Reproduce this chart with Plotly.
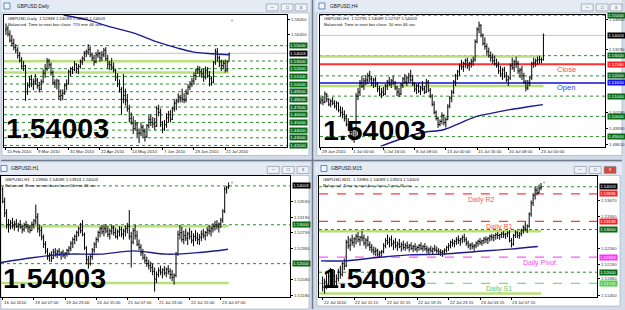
import plotly.graph_objects as go

W, H = 625, 310

# ---------------- DATA ----------------
# Daily
d_dates = ["15 Feb 2010", "9 Mar 2010", "31 Mar 2010", "22 Apr 2010", "14 May 2010", "7 Jun 2010", "29 Jun 2010", "21 Jul 2010"]
d_open0 = 1.5700
d_high = [1.5790,1.5760,1.5700,1.5640,1.5590,1.5520,1.5480,1.5420,1.5350,1.5300,
          1.5250,1.5020,1.5100,1.5120,1.5070,1.5130,1.5080,1.5030,1.5060,1.5190,
          1.5260,1.5340,1.5330,1.5280,1.5180,1.5060,1.5070,1.5060,1.4930,1.4930,
          1.5010,1.5060,1.5190,1.5220,1.5230,1.5300,1.5270,1.5260,1.5320,1.5360,
          1.5430,1.5450,1.5520,1.5490,1.5410,1.5380,1.5420,1.5450,1.5420,1.5430,
          1.5470,1.5480,1.5380,1.5300,1.5340,1.5280,1.5200,1.5140,1.5060,1.4960,
          1.5130,1.4940,1.4870,1.4730,1.4630,1.4580,1.4530,1.4500,1.4420,1.4500,
          1.4470,1.4420,1.4480,1.4590,1.4610,1.4570,1.4560,1.4710,1.4730,1.4680,
          1.4520,1.4530,1.4620,1.4650,1.4660,1.4700,1.4790,1.4810,1.4880,1.4860,
          1.4940,1.4880,1.4930,1.5000,1.5040,1.5080,1.5150,1.5200,1.5240,1.5230,
          1.5200,1.5200,1.5230,1.5220,1.5170,1.5100,1.5300,1.5460,1.5470,1.5370,
          1.5320,1.5310,1.5320,1.5310,1.5409]
d_low = [1.5640,1.5620,1.5540,1.5490,1.5440,1.5400,1.5330,1.5280,1.5190,1.5170,
         1.4780,1.4860,1.4950,1.4960,1.4920,1.4990,1.4940,1.4890,1.4920,1.5010,
         1.5080,1.5170,1.5200,1.5110,1.4990,1.4950,1.4930,1.4800,1.4780,1.4790,
         1.4860,1.4920,1.4990,1.5100,1.5130,1.5170,1.5140,1.5130,1.5200,1.5250,
         1.5300,1.5350,1.5380,1.5350,1.5300,1.5240,1.5270,1.5340,1.5290,1.5300,
         1.5350,1.5300,1.5200,1.5180,1.5180,1.5150,1.5040,1.4960,1.4890,1.4600,
         1.4750,1.4720,1.4640,1.4500,1.4470,1.4350,1.4390,1.4310,1.4230,1.4320,
         1.4300,1.4250,1.4300,1.4420,1.4450,1.4430,1.4400,1.4440,1.4580,1.4440,
         1.4360,1.4390,1.4430,1.4500,1.4500,1.4530,1.4640,1.4660,1.4750,1.4760,
         1.4760,1.4750,1.4760,1.4860,1.4920,1.4960,1.4990,1.5050,1.5130,1.5090,
         1.5080,1.5030,1.5060,1.5080,1.4970,1.4980,1.5010,1.5250,1.5290,1.5220,
         1.5170,1.5190,1.5150,1.5160,1.5295]
d_close = [1.5720,1.5650,1.5570,1.5530,1.5480,1.5440,1.5370,1.5310,1.5230,1.5240,
           1.4900,1.4980,1.5060,1.5000,1.5030,1.5050,1.4980,1.4930,1.5030,1.5140,
           1.5200,1.5300,1.5250,1.5150,1.5020,1.5000,1.5040,1.4840,1.4850,1.4880,
           1.4980,1.5000,1.5160,1.5200,1.5190,1.5260,1.5200,1.5230,1.5290,1.5330,
           1.5400,1.5420,1.5450,1.5380,1.5340,1.5290,1.5380,1.5400,1.5340,1.5380,
           1.5440,1.5330,1.5260,1.5250,1.5220,1.5180,1.5090,1.5000,1.4930,1.4800,
           1.4850,1.4780,1.4680,1.4550,1.4490,1.4420,1.4480,1.4360,1.4360,1.4440,
           1.4380,1.4310,1.4460,1.4540,1.4500,1.4480,1.4450,1.4680,1.4630,1.4470,
           1.4410,1.4470,1.4560,1.4600,1.4540,1.4680,1.4750,1.4780,1.4830,1.4820,
           1.4800,1.4790,1.4880,1.4960,1.5000,1.5040,1.5110,1.5180,1.5190,1.5160,
           1.5130,1.5090,1.5180,1.5110,1.5070,1.5020,1.5280,1.5420,1.5340,1.5290,
           1.5240,1.5270,1.5180,1.5290,1.5400]
d_ma_x = [29.4, 41.6, 53.3, 65.0, 77.2, 87.3, 95.4, 105.6, 114.2]
d_ma_y = [1.5900, 1.5835, 1.5744, 1.5666, 1.5549, 1.5471, 1.5419, 1.5394, 1.5381]
d_levels = [1.55, 1.53, 1.52, 1.51, 1.50, 1.49, 1.48, 1.47, 1.46, 1.45, 1.44, 1.43, 1.42]
d_axis = [1.5840, 1.5645]

# H4
h4_dates = ["29 Jun 2010", "1 Jul 00:00", "5 Jul 16:00", "8 Jul 08:00", "13 Jul 00:00", "15 Jul 16:00", "20 Jul 08:00", "23 Jul 00:00"]
h4_open0 = 1.5070
h4_bars = [  # high, low, close
 (1.5095,1.5060,1.5080),(1.5100,1.5055,1.5070),(1.5123,1.5065,1.5110),(1.5115,1.5070,1.5085),(1.5090,1.5050,1.5060),
 (1.5085,1.5045,1.5075),(1.5095,1.5055,1.5065),(1.5080,1.5040,1.5050),(1.5075,1.5030,1.5065),(1.5070,1.5020,1.5030),
 (1.5050,1.5000,1.5020),(1.5045,1.4990,1.5010),(1.5030,1.4975,1.4990),(1.5010,1.4950,1.4960),(1.4990,1.4930,1.4945),
 (1.4975,1.4900,1.4920),(1.4950,1.4880,1.4900),(1.4930,1.4869,1.4890),(1.5115,1.4890,1.5100),(1.5140,1.5080,1.5120),
 (1.5180,1.5100,1.5165),(1.5200,1.5140,1.5150),(1.5190,1.5130,1.5175),(1.5205,1.5155,1.5180),(1.5215,1.5160,1.5200),
 (1.5225,1.5170,1.5185),(1.5200,1.5150,1.5165),(1.5190,1.5140,1.5180),(1.5195,1.5145,1.5160),(1.5170,1.5120,1.5135),
 (1.5150,1.5100,1.5110),(1.5140,1.5090,1.5120),(1.5145,1.5100,1.5110),(1.5160,1.5105,1.5150),(1.5180,1.5130,1.5170),
 (1.5195,1.5150,1.5160),(1.5185,1.5140,1.5175),(1.5200,1.5155,1.5165),(1.5175,1.5130,1.5140),(1.5150,1.5100,1.5120),
 (1.5140,1.5095,1.5110),(1.5165,1.5105,1.5155),(1.5195,1.5140,1.5185),(1.5210,1.5160,1.5170),(1.5200,1.5150,1.5190),
 (1.5215,1.5165,1.5200),(1.5230,1.5170,1.5180),(1.5205,1.5150,1.5160),(1.5170,1.5120,1.5135),(1.5160,1.5110,1.5150),
 (1.5165,1.5115,1.5125),(1.5150,1.5105,1.5140),(1.5175,1.5125,1.5135),(1.5150,1.5110,1.5120),(1.5185,1.5115,1.5170),
 (1.5180,1.5120,1.5130),(1.5140,1.5090,1.5100),(1.5110,1.5050,1.5060),(1.5075,1.5010,1.5020),(1.5030,1.4980,1.4990),
 (1.5000,1.4943,1.4960),(1.4985,1.4950,1.4975),(1.5020,1.4960,1.5005),(1.5010,1.4955,1.4970),(1.4995,1.4945,1.4985),
 (1.5060,1.4980,1.5050),(1.5100,1.5040,1.5090),(1.5130,1.5070,1.5120),(1.5180,1.5110,1.5170),(1.5210,1.5150,1.5200),
 (1.5230,1.5180,1.5220),(1.5260,1.5200,1.5250),(1.5280,1.5230,1.5245),(1.5270,1.5220,1.5260),(1.5285,1.5240,1.5275),
 (1.5290,1.5235,1.5250),(1.5270,1.5225,1.5260),(1.5285,1.5240,1.5270),(1.5295,1.5250,1.5280),(1.5380,1.5270,1.5370),
 (1.5440,1.5360,1.5430),(1.5468,1.5410,1.5450),(1.5455,1.5390,1.5400),(1.5410,1.5350,1.5360),(1.5390,1.5330,1.5345),
 (1.5360,1.5300,1.5320),(1.5340,1.5290,1.5300),(1.5320,1.5270,1.5290),(1.5310,1.5260,1.5275),(1.5300,1.5250,1.5260),
 (1.5285,1.5240,1.5250),(1.5270,1.5210,1.5225),(1.5250,1.5195,1.5210),(1.5240,1.5180,1.5230),(1.5245,1.5190,1.5200),
 (1.5220,1.5170,1.5180),(1.5200,1.5150,1.5190),(1.5260,1.5180,1.5250),(1.5290,1.5230,1.5240),(1.5280,1.5220,1.5270),
 (1.5295,1.5240,1.5260),(1.5275,1.5210,1.5225),(1.5240,1.5190,1.5230),(1.5250,1.5180,1.5200),(1.5215,1.5160,1.5170),
 (1.5180,1.5123,1.5140),(1.5180,1.5130,1.5165),(1.5200,1.5150,1.5190),(1.5270,1.5180,1.5260),(1.5290,1.5240,1.5265),
 (1.5285,1.5245,1.5275),(1.5295,1.5255,1.5280),(1.5300,1.5260,1.5280),(1.5290,1.5262,1.5280),(1.5409,1.5275,1.5400)]
h4_high = [b[0] for b in h4_bars]
h4_low = [b[1] for b in h4_bars]
h4_close = [b[2] for b in h4_bars]
h4_ma_x = [30.5, 50.9, 62.8, 71.3, 79.8, 88.2, 96.7, 105.2, 113.7]
h4_ma_y = [1.4852, 1.4918, 1.4934, 1.4967, 1.5000, 1.5017, 1.5033, 1.5046, 1.5058]
h4_levels = [1.55, 1.53, 1.52, 1.51, 1.50, 1.49]
h4_axis = [1.5480, 1.5329, 1.5019, 1.4939, 1.4861]
h4_close_line = 1.5258
h4_open_line = 1.5165

# H1
h1_dates = ["16 Jul 2010", "19 Jul 07:00", "19 Jul 23:00", "20 Jul 15:00", "21 Jul 07:00", "21 Jul 23:00", "22 Jul 15:00", "23 Jul 07:00"]
h1_open0 = 1.5390
h1_bars = [
 (1.5398,1.5355,1.5360),(1.5370,1.5320,1.5330),(1.5340,1.5290,1.5300),(1.5315,1.5280,1.5300),(1.5312,1.5288,1.5305),
 (1.5318,1.5290,1.5298),(1.5310,1.5285,1.5302),(1.5315,1.5292,1.5296),(1.5305,1.5282,1.5300),(1.5312,1.5290,1.5294),
 (1.5300,1.5278,1.5288),(1.5305,1.5282,1.5300),(1.5310,1.5290,1.5296),(1.5302,1.5280,1.5292),(1.5300,1.5278,1.5285),
 (1.5308,1.5284,1.5300),(1.5315,1.5290,1.5310),(1.5352,1.5300,1.5320),(1.5330,1.5280,1.5290),(1.5300,1.5270,1.5285),
 (1.5295,1.5260,1.5268),(1.5275,1.5240,1.5250),(1.5258,1.5225,1.5232),(1.5240,1.5210,1.5218),(1.5228,1.5205,1.5222),
 (1.5232,1.5204,1.5214),(1.5238,1.5212,1.5230),(1.5240,1.5218,1.5226),(1.5236,1.5214,1.5232),(1.5240,1.5220,1.5224),
 (1.5232,1.5210,1.5228),(1.5236,1.5216,1.5222),(1.5230,1.5212,1.5226),(1.5238,1.5218,1.5234),(1.5245,1.5222,1.5240),
 (1.5258,1.5232,1.5252),(1.5268,1.5240,1.5262),(1.5275,1.5250,1.5270),(1.5285,1.5258,1.5280),(1.5295,1.5270,1.5290),
 (1.5305,1.5278,1.5285),(1.5312,1.5270,1.5275),(1.5280,1.5235,1.5240),(1.5245,1.5198,1.5210),(1.5220,1.5187,1.5200),
 (1.5225,1.5195,1.5218),(1.5240,1.5210,1.5235),(1.5255,1.5228,1.5250),(1.5268,1.5240,1.5262),(1.5285,1.5255,1.5280),
 (1.5295,1.5268,1.5290),(1.5300,1.5275,1.5282),(1.5298,1.5270,1.5290),(1.5302,1.5278,1.5284),(1.5296,1.5268,1.5275),
 (1.5290,1.5262,1.5284),(1.5300,1.5275,1.5292),(1.5298,1.5272,1.5280),(1.5292,1.5265,1.5270),(1.5288,1.5262,1.5282),
 (1.5296,1.5270,1.5288),(1.5295,1.5268,1.5276),(1.5290,1.5262,1.5284),(1.5298,1.5270,1.5290),(1.5305,1.5278,1.5296),
 (1.5338,1.5262,1.5270),(1.5282,1.5190,1.5255),(1.5292,1.5250,1.5285),(1.5300,1.5262,1.5272),(1.5285,1.5245,1.5250),
 (1.5262,1.5235,1.5242),(1.5250,1.5220,1.5228),(1.5238,1.5210,1.5215),(1.5225,1.5200,1.5208),(1.5218,1.5192,1.5200),
 (1.5210,1.5185,1.5195),(1.5205,1.5178,1.5190),(1.5200,1.5170,1.5180),(1.5190,1.5128,1.5160),(1.5180,1.5150,1.5172),
 (1.5190,1.5165,1.5182),(1.5195,1.5170,1.5178),(1.5188,1.5162,1.5184),(1.5194,1.5170,1.5176),(1.5190,1.5165,1.5186),
 (1.5196,1.5172,1.5180),(1.5188,1.5160,1.5172),(1.5184,1.5155,1.5165),(1.5175,1.5146,1.5170),(1.5230,1.5165,1.5225),
 (1.5285,1.5220,1.5275),(1.5300,1.5262,1.5280),(1.5295,1.5255,1.5262),(1.5285,1.5250,1.5272),(1.5290,1.5258,1.5265),
 (1.5282,1.5248,1.5276),(1.5292,1.5262,1.5270),(1.5285,1.5252,1.5260),(1.5278,1.5245,1.5270),(1.5286,1.5258,1.5266),
 (1.5280,1.5250,1.5262),(1.5276,1.5248,1.5268),(1.5285,1.5258,1.5276),(1.5290,1.5265,1.5272),(1.5284,1.5260,1.5280),
 (1.5294,1.5270,1.5286),(1.5300,1.5275,1.5284),(1.5296,1.5270,1.5290),(1.5304,1.5280,1.5296),(1.5310,1.5285,1.5300),
 (1.5312,1.5288,1.5296),(1.5306,1.5280,1.5302),(1.5318,1.5292,1.5312),(1.5340,1.5305,1.5335),(1.5398,1.5330,1.5392),
 (1.5400,1.5380,1.5397),(1.5409,1.5392,1.5400)]
h1_high = [b[0] for b in h1_bars]
h1_low = [b[1] for b in h1_bars]
h1_close = [b[2] for b in h1_bars]
h1_ma_x = [-0.87, 16.1, 33.1, 50.2, 67.2, 84.2, 101.2, 115.7]
h1_ma_y = [1.52031, 1.52159, 1.52244, 1.52244, 1.52328, 1.52244, 1.52287, 1.52372]
h1_levels = [1.54, 1.53, 1.52]
h1_axis = [1.5359, 1.5319, 1.5279, 1.5238, 1.5158, 1.5118]

# M15
m15_dates = ["22 Jul 2010", "22 Jul 11:15", "22 Jul 15:15", "22 Jul 19:15", "22 Jul 23:15", "23 Jul 03:15", "23 Jul 07:15"]
m15_open0 = 1.5180
m15_bars = [
 (1.5190,1.5155,1.5165),(1.5185,1.5150,1.5178),(1.5195,1.5160,1.5170),(1.5200,1.5165,1.5190),(1.5210,1.5175,1.5182),
 (1.5198,1.5168,1.5192),(1.5205,1.5170,1.5178),(1.5195,1.5165,1.5185),(1.5208,1.5178,1.5200),(1.5215,1.5185,1.5195),
 (1.5225,1.5190,1.5220),(1.5232,1.5205,1.5215),(1.5276,1.5212,1.5270),(1.5285,1.5255,1.5262),(1.5280,1.5250,1.5275),
 (1.5288,1.5262,1.5270),(1.5282,1.5258,1.5278),(1.5290,1.5265,1.5284),(1.5294,1.5270,1.5276),(1.5285,1.5262,1.5282),
 (1.5296,1.5272,1.5280),(1.5288,1.5262,1.5268),(1.5280,1.5255,1.5275),(1.5285,1.5260,1.5264),(1.5272,1.5250,1.5258),
 (1.5266,1.5245,1.5252),(1.5260,1.5240,1.5248),(1.5258,1.5238,1.5250),(1.5255,1.5236,1.5242),(1.5250,1.5235,1.5246),
 (1.5252,1.5237,1.5248),(1.5268,1.5244,1.5262),(1.5280,1.5256,1.5274),(1.5288,1.5264,1.5270),(1.5282,1.5258,1.5276),
 (1.5286,1.5260,1.5266),(1.5276,1.5252,1.5270),(1.5280,1.5256,1.5262),(1.5272,1.5250,1.5266),(1.5278,1.5256,1.5260),
 (1.5270,1.5248,1.5264),(1.5274,1.5252,1.5258),(1.5268,1.5250,1.5262),(1.5272,1.5254,1.5258),(1.5266,1.5248,1.5262),
 (1.5270,1.5252,1.5256),(1.5264,1.5247,1.5260),(1.5268,1.5250,1.5254),(1.5262,1.5246,1.5258),(1.5266,1.5250,1.5262),
 (1.5270,1.5252,1.5256),(1.5264,1.5248,1.5260),(1.5268,1.5250,1.5255),(1.5262,1.5244,1.5252),(1.5258,1.5242,1.5254),
 (1.5262,1.5246,1.5250),(1.5258,1.5242,1.5255),(1.5264,1.5248,1.5252),(1.5260,1.5244,1.5250),(1.5256,1.5240,1.5248),
 (1.5254,1.5238,1.5246),(1.5252,1.5236,1.5248),(1.5256,1.5240,1.5252),(1.5262,1.5246,1.5258),(1.5268,1.5250,1.5262),
 (1.5274,1.5256,1.5270),(1.5278,1.5260,1.5268),(1.5276,1.5258,1.5272),(1.5282,1.5264,1.5276),(1.5286,1.5266,1.5274),
 (1.5280,1.5262,1.5278),(1.5286,1.5268,1.5282),(1.5290,1.5270,1.5276),(1.5282,1.5262,1.5268),(1.5274,1.5256,1.5262),
 (1.5268,1.5252,1.5264),(1.5270,1.5254,1.5260),(1.5266,1.5250,1.5262),(1.5272,1.5256,1.5268),(1.5276,1.5260,1.5272),
 (1.5280,1.5264,1.5270),(1.5276,1.5262,1.5274),(1.5282,1.5266,1.5278),(1.5284,1.5268,1.5276),(1.5282,1.5266,1.5280),
 (1.5288,1.5272,1.5284),(1.5290,1.5274,1.5282),(1.5288,1.5272,1.5286),(1.5292,1.5276,1.5288),(1.5294,1.5278,1.5286),
 (1.5290,1.5276,1.5288),(1.5294,1.5280,1.5290),(1.5296,1.5280,1.5288),(1.5292,1.5278,1.5290),(1.5296,1.5282,1.5292),
 (1.5298,1.5270,1.5274),(1.5280,1.5258,1.5266),(1.5290,1.5262,1.5286),(1.5298,1.5280,1.5292),(1.5296,1.5280,1.5286),
 (1.5294,1.5278,1.5290),(1.5302,1.5284,1.5298),(1.5310,1.5290,1.5304),(1.5318,1.5296,1.5300),(1.5312,1.5292,1.5308),
 (1.5340,1.5304,1.5336),(1.5368,1.5330,1.5362),(1.5385,1.5355,1.5380),(1.5400,1.5370,1.5392),(1.5398,1.5380,1.5386),
 (1.5405,1.5384,1.5397),(1.5409,1.5392,1.5400)]
m15_high = [b[0] for b in m15_bars]
m15_low = [b[1] for b in m15_bars]
m15_close = [b[2] for b in m15_bars]
m15_ma_x = [-0.86, 10.9, 27.8, 44.6, 61.4, 78.3, 95.1, 109.4]
m15_ma_y = [1.52266, 1.52266, 1.52344, 1.52407, 1.52423, 1.52485, 1.52541, 1.52602]
m15_levels = [1.54, 1.53, 1.52]
m15_axis = [1.5367, 1.5330, 1.5256, 1.5219, 1.5186, 1.5145]
pivots = [("Daily R2", 1.53836), ("Daily R1", 1.53188), ("Daily Pivot", 1.52353), ("Daily S1", 1.51741)]

price_now = 1.54003
prev_high = 1.5296
prev_low = 1.5150

# --------------- STYLE ---------------
FONT = "Liberation Sans"
GREEN_BOX = "#0b6b14"
LIGHT_GREEN = "#b7e07a"
DOT_GREEN = "#2a8a2a"
SMALL = 4.3

panels = [
    dict(title="GBPUSD,Daily", box=(3, 15, 288, 147), xr=(-1.02, 143.65), yr=(1.4186, 1.5900),
         high=d_high, low=d_low, close=d_close, open0=d_open0, ma=(d_ma_x, d_ma_y),
         dates=d_dates, levels=d_levels, axis=d_axis,
         head=["GBPUSD,Daily  1.52948 1.54089 1.52949 1.54003", "Balanced: Time to next bar close: 770 min 46 sec"],
         big=(4, 128.5)),
    dict(title="GBPUSD,H4", box=(321, 15, 608, 147), xr=(-0.51, 145.6), yr=(1.4851, 1.5501),
         high=h4_high, low=h4_low, close=h4_close, open0=h4_open0, ma=(h4_ma_x, h4_ma_y),
         dates=h4_dates, levels=h4_levels, axis=h4_axis,
         head=["GBPUSD,H4  1.52795 1.54089 1.52747 1.54003", "Balanced: Time to next bar close: 50 min 46 sec"],
         big=(323, 130)),
    dict(title="GBPUSD,H1", box=(0, 177, 291, 298), xr=(-0.87, 147.6), yr=(1.51141, 1.542436),
         high=h1_high, low=h1_low, close=h1_close, open0=h1_open0, ma=(h1_ma_x, h1_ma_y),
         dates=h1_dates, levels=h1_levels, axis=h1_axis,
         head=["GBPUSD,H1  1.53966 1.54089 1.53924 1.54003", "Balanced: Time to next bar close: 50 min 46 sec"],
         big=(1, 278.5)),
    dict(title="GBPUSD,M15", box=(320, 177, 600, 298), xr=(-1.87, 139.55), yr=(1.514188, 1.542424),
         high=m15_high, low=m15_low, close=m15_close, open0=m15_open0, ma=(m15_ma_x, m15_ma_y),
         dates=m15_dates, levels=m15_levels, axis=m15_axis,
         head=["GBPUSD,M15  1.53966 1.54089 1.53924 1.54003", "Balanced: Time to next bar close: 5 min 46 sec"],
         big=(323, 278.5)),
]

fig = go.Figure()


def X(px):
    return px / W


def Y(py):
    return 1 - py / H


def rect(x0, y0, x1, y1, fill, line="rgba(0,0,0,0)", lw=0, layer="below"):
    fig.add_shape(type="rect", xref="paper", yref="paper", x0=X(x0), x1=X(x1), y0=Y(y1), y1=Y(y0),
                  fillcolor=fill, line=dict(color=line, width=lw), layer=layer)


def text(x, y, t, size, color="#111", xanchor="left", yanchor="middle", family=FONT):
    fig.add_annotation(xref="paper", yref="paper", x=X(x), y=Y(y), text=t, showarrow=False,
                       xanchor=xanchor, yanchor=yanchor, borderpad=0,
                       font=dict(size=size, color=color, family=family))


# ---- window chrome ----
windows = [((0, 0, 311, 158), (1, 13, 310, 156)),
           ((316, 0, 625, 158), (318, 13, 625, 156)),
           ((0, 163, 311, 310), (0, 176, 310, 310)),
           ((316, 163, 625, 310), (318, 176, 623, 307))]
for (wx0, wy0, wx1, wy1), (cx0, cy0, cx1, cy1) in windows:
    rect(wx0, wy0, wx1, wy0 + 12.5, "#e4ebf4")
    rect(cx0, cy0, cx1, cy1, "#ffffff", line="#9aa8b8", lw=0.6)
fig.add_shape(type="line", xref="paper", yref="paper", x0=X(313.5), x1=X(313.5), y0=0, y1=1,
              line=dict(color="#6f7b8a", width=1.5), layer="below")
fig.add_shape(type="line", xref="paper", yref="paper", x0=0, x1=1, y0=Y(161), y1=Y(161),
              line=dict(color="#6f7b8a", width=1.5), layer="below")

buttons = [(4, [267, 282, 296]), (4, [584, 599, 613]), (167, [268, 283, 298]), (167, [577, 592, 607])]
for wi, (by, bxs) in enumerate(buttons):
    for bi, bx in enumerate(bxs):
        fill = "#d24a3c" if (wi == 3 and bi == 2) else "#eef2f8"
        rect(bx, by, bx + 12, by + 7, fill, line="#7d8a9a", lw=0.6, layer="above")
        glyph = ["\u2013", "\u25a1", "x"][bi]
        text(bx + 6, by + 3.5, glyph, 4.5, color="#fff" if fill != "#eef2f8" else "#444", xanchor="center")

icons = [(3, 3), (320, 3), (0, 166), (322, 166)]
titles = [(15, 6.5), (330, 6.5), (9, 169.5), (331, 169.5)]
for (ix, iy), (tx, ty), P in zip(icons, titles, panels):
    rect(ix, iy, ix + 6, iy + 6, "#f4f8fc", line="#3f6fb0", lw=0.8, layer="above")
    text(tx, ty, P["title"], 4.8, color="#1a1a1a")

# ---- panels ----
for n, P in enumerate(panels, start=1):
    xa = "x" if n == 1 else f"x{n}"
    ya = "y" if n == 1 else f"y{n}"
    xk = "xaxis" if n == 1 else f"xaxis{n}"
    yk = "yaxis" if n == 1 else f"yaxis{n}"
    bx0, by0, bx1, by1 = P["box"]
    nb = len(P["close"])
    idx = list(range(nb))
    opens = [P["open0"]] + P["close"][:-1]
    date_idx = [16 * i for i in range(len(P["dates"]))]

    fig.update_layout(**{
        xk: dict(domain=[X(bx0), X(bx1)], anchor=ya, range=list(P["xr"]), showgrid=False, zeroline=False,
                 showline=True, mirror=True, linecolor="black", linewidth=1, ticks="outside", ticklen=2,
                 tickcolor="black", tickvals=date_idx, showticklabels=False,
                 rangeslider=dict(visible=False), fixedrange=True),
        yk: dict(domain=[Y(by1), Y(by0)], anchor=xa, range=list(P["yr"]), side="right", showgrid=False,
                 zeroline=False, showline=True, mirror=True, linecolor="black", linewidth=1,
                 ticks="outside", ticklen=2, tickcolor="black", tickvals=P["axis"],
                 ticktext=[f"{v:.5f}" for v in P["axis"]],
                 tickfont=dict(size=SMALL, color="#333", family=FONT), fixedrange=True),
    })

    # level lines
    for v in P["levels"]:
        fig.add_shape(type="line", xref=f"{xa} domain", yref=ya, x0=0, x1=1, y0=v, y1=v,
                      line=dict(color=DOT_GREEN, width=1, dash="dot"), layer="below")
    if n in (1, 2):
        fig.add_shape(type="line", xref=f"{xa} domain", yref=ya, x0=0, x1=1, y0=price_now, y1=price_now,
                      line=dict(color="#c4c4c4", width=1), layer="below")
    for v in (prev_high, prev_low):
        fig.add_shape(type="line", xref=xa, yref=ya, x0=P["xr"][0], x1=nb - 1, y0=v, y1=v,
                      line=dict(color=LIGHT_GREEN, width=2.5), layer="below")
    if n == 2:
        fig.add_shape(type="line", xref=f"{xa} domain", yref=ya, x0=0, x1=1, y0=h4_close_line, y1=h4_close_line,
                      line=dict(color="#ff3030", width=2), layer="below")
        fig.add_shape(type="line", xref=f"{xa} domain", yref=ya, x0=0, x1=1, y0=h4_open_line, y1=h4_open_line,
                      line=dict(color="#1010d0", width=1.5), layer="below")
        fig.add_annotation(xref=xa, yref=ya, x=120, y=h4_close_line, yshift=-5, text="Close", showarrow=False,
                           xanchor="left", font=dict(size=7.5, color="#ff4a4a", family=FONT))
        fig.add_annotation(xref=xa, yref=ya, x=120, y=h4_open_line, yshift=-5, text="Open", showarrow=False,
                           xanchor="left", font=dict(size=7.5, color="#3a3aff", family=FONT))
    if n == 4:
        pstyle = [("#ff3a3a", "#ff5a3a", "dash"), ("#ff3a3a", "#ff5a3a", "dash"),
                  ("#ff55ff", "#ff44ff", "dash"), ("#7ddc7d", "#5ccc5c", "dash")]
        txt_x = [73, 82, 101, 82]
        for (lab, v), (lc, tc, dsh), tx in zip(pivots, pstyle, txt_x):
            fig.add_shape(type="line", xref=f"{xa} domain", yref=ya, x0=0, x1=1, y0=v, y1=v,
                          line=dict(color=lc, width=1.2, dash=dsh), layer="below")
            fig.add_annotation(xref=xa, yref=ya, x=tx, y=v, yshift=-6, text=lab, showarrow=False,
                               xanchor="left", font=dict(size=7, color=tc, family=FONT))

    # bars and MA
    fig.add_trace(go.Ohlc(x=idx, open=opens, high=P["high"], low=P["low"], close=P["close"],
                          xaxis=xa, yaxis=ya, tickwidth=0.45, hoverinfo="skip", showlegend=False,
                          increasing=dict(line=dict(color="black", width=1)),
                          decreasing=dict(line=dict(color="black", width=1))))
    fig.add_trace(go.Scatter(x=P["ma"][0], y=P["ma"][1], mode="lines", xaxis=xa, yaxis=ya,
                             line=dict(color="#1b1b8c", width=1.4, shape="spline"),
                             hoverinfo="skip", showlegend=False, cliponaxis=True))

    # right-side price boxes
    boxes = [(v, GREEN_BOX) for v in P["levels"] if abs(v - 1.54) > 1e-9]
    boxes.append((price_now, "#000000"))
    if n == 2:
        boxes += [(h4_close_line, "#ff2020"), (h4_open_line, "#1414e6")]
    if n == 4:
        boxes += [(pivots[0][1], "#ff2020"), (pivots[1][1], "#ff2020"),
                  (pivots[2][1], "#ff30ff"), (pivots[3][1], "#4fcf4f")]
    for v, col in boxes:
        fig.add_annotation(xref=f"{xa} domain", yref=ya, x=1, xshift=1.5, y=v, text=f"{v:.5f}",
                           showarrow=False, xanchor="left", yanchor="middle", bgcolor=col, borderpad=0.2,
                           font=dict(size=SMALL, color="white", family=FONT))

    # date labels
    for di, dl in zip(date_idx, P["dates"]):
        fig.add_annotation(xref=xa, yref=f"{ya} domain", x=di, y=0, yshift=-1.5, text=dl, showarrow=False,
                           xanchor="left", yanchor="top", borderpad=0,
                           font=dict(size=SMALL, color="#222", family=FONT))

    # header lines
    for li, line in enumerate(P["head"]):
        text(bx0 + 3.5, by0 + 3.5 + 6 * li, line, SMALL, color="#111")

    # shift marker
    if n != 2:
        fig.add_annotation(xref=xa, yref=f"{ya} domain", x=nb + 0.5, y=1, yshift=-1.5, text="\u25bc",
                           showarrow=False, yanchor="top", font=dict(size=4, color="#a0a0a0"))

    # big price text
    text(P["big"][0], P["big"][1], "<b>1.54003</b>", 28.5, color="#000", family=FONT)

fig.update_layout(width=W, height=H, margin=dict(l=0, r=0, t=0, b=0), paper_bgcolor="#d2dce8",
                  plot_bgcolor="white", showlegend=False, dragmode=False)

fig.write_html("out.html", include_plotlyjs=True, config={"displayModeBar": False})
